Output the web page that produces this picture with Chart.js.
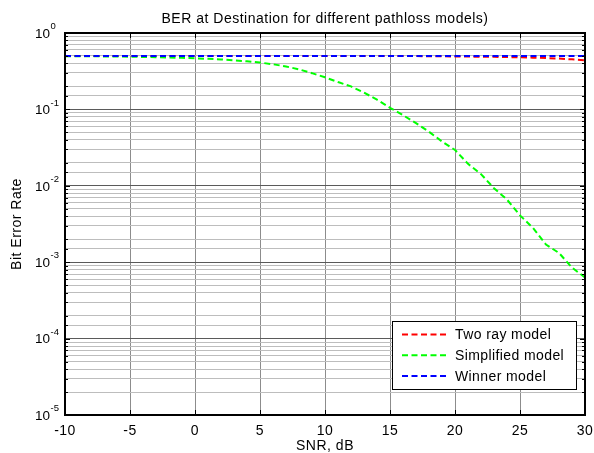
<!DOCTYPE html>
<html>
<head>
<meta charset="utf-8">
<script src="https://cdn.jsdelivr.net/npm/chart.js@4.4.1/dist/chart.umd.min.js"></script>
<style>
  html, body { margin: 0; padding: 0; background: #fff; }
</style>
</head>
<body>
<canvas id="berChart" width="594" height="453"></canvas>
<script>
// SNR sweep in dB
const snr = [-10, -9, -8, -7, -6, -5, -4, -3, -2, -1, 0, 1, 2, 3, 4, 5, 6, 7, 8, 9,
             10, 11, 12, 13, 14, 15, 16, 17, 18, 19, 20, 21, 22, 23, 24, 25, 26, 27, 28, 29, 30];

// BER per pathloss model
const twoRay = [0.5, 0.5, 0.5, 0.5, 0.5, 0.5, 0.5, 0.5, 0.5, 0.5,
                0.5, 0.5, 0.5, 0.5, 0.5, 0.5, 0.5, 0.5, 0.5, 0.5,
                0.5, 0.5, 0.5, 0.5, 0.5, 0.5, 0.5, 0.499, 0.497, 0.495,
                0.493, 0.491, 0.489, 0.487, 0.484, 0.481, 0.476, 0.47, 0.462, 0.452, 0.44];
const simplified = [0.498, 0.497, 0.496, 0.494, 0.492, 0.489, 0.486, 0.482, 0.478, 0.473,
                    0.467, 0.459, 0.45, 0.439, 0.426, 0.41, 0.39, 0.365, 0.334, 0.298,
                    0.263, 0.228, 0.2, 0.166, 0.134, 0.105, 0.084, 0.066, 0.051, 0.038,
                    0.0295, 0.0194, 0.0142, 0.0093, 0.0066, 0.0041, 0.0028, 0.0017, 0.00132, 0.00085, 0.00063];
const winner = [0.5, 0.5, 0.5, 0.5, 0.5, 0.5, 0.5, 0.5, 0.5, 0.5,
                0.5, 0.5, 0.5, 0.5, 0.5, 0.5, 0.5, 0.5, 0.5, 0.5,
                0.5, 0.5, 0.5, 0.5, 0.5, 0.5, 0.5, 0.5, 0.5, 0.5,
                0.5, 0.5, 0.5, 0.5, 0.5, 0.5, 0.5, 0.5, 0.5, 0.5, 0.5];

const seriesNames = ['Two ray model', 'Simplified model', 'Winner model'];
const seriesColors = ['#ff0000', '#00ff00', '#0000ff'];

// axis ticks
const xTicks = [-10, -5, 0, 5, 10, 15, 20, 25, 30];
const yDecades = [1, 1e-1, 1e-2, 1e-3, 1e-4, 1e-5];

const FONT = '"Liberation Sans", Arial, Helvetica, sans-serif';
const DASH = [6, 3.5];

function isDecade(v) {
    const l = Math.log10(v);
    return Math.abs(l - Math.round(l)) < 1e-6;
}

function pts(ys) {
    return snr.map((s, i) => ({x: s, y: ys[i]}));
}

// box, inward ticks, 10^n labels and the legend, drawn the old matlab way
const matlabFrame = {
    id: 'matlabFrame',
    beforeDraw(chart) {
        // matlab text runs a bit wider than plain arial
        chart.ctx.letterSpacing = '0.5px';
    },
    afterDraw(chart) {
        const ctx = chart.ctx;
        const a = chart.chartArea;
        const x = chart.scales.x, y = chart.scales.y;
        ctx.save();

        function seg(x1, y1, x2, y2) {
            ctx.beginPath(); ctx.moveTo(x1, y1); ctx.lineTo(x2, y2); ctx.stroke();
        }

        ctx.strokeStyle = '#000';
        ctx.lineWidth = 1;
        y.ticks.forEach(t => {
            const py = Math.round(y.getPixelForValue(t.value)) + 0.5;
            const len = isDecade(t.value) ? 5 : 3;
            seg(a.left, py, a.left + len, py);
            seg(a.right - len, py, a.right, py);
        });
        xTicks.forEach(v => {
            const px = Math.round(x.getPixelForValue(v)) + 0.5;
            seg(px, a.top, px, a.top + 5);
            seg(px, a.bottom - 5, px, a.bottom);
        });

        ctx.lineWidth = 2;
        ctx.strokeRect(a.left, a.top, a.right - a.left, a.bottom - a.top);

        // y tick labels with superscript exponent
        ctx.letterSpacing = '0px';
        ctx.fillStyle = '#000';
        ctx.textBaseline = 'middle';
        yDecades.forEach(v => {
            const py = y.getPixelForValue(v);
            ctx.font = '13.5px ' + FONT;
            ctx.textAlign = 'right';
            ctx.fillText('10', a.left - 15, py + 1);
            ctx.font = '9.5px ' + FONT;
            ctx.textAlign = 'left';
            ctx.fillText(String(Math.round(Math.log10(v))), a.left - 14.5, py - 6.5);
        });

        // legend
        const bx = a.right - 193, by = a.bottom - 94, bw = 184, bh = 68;
        ctx.fillStyle = '#fff';
        ctx.fillRect(bx, by, bw, bh);
        ctx.lineWidth = 1;
        ctx.strokeStyle = '#000';
        ctx.strokeRect(bx + 0.5, by + 0.5, bw, bh);
        ctx.font = '14px ' + FONT;
        ctx.letterSpacing = '0.4px';
        ctx.textAlign = 'left';
        ctx.textBaseline = 'middle';
        seriesNames.forEach((name, i) => {
            const ry = by + 13.5 + i * 20.7;
            ctx.strokeStyle = seriesColors[i];
            ctx.lineWidth = 2;
            ctx.setLineDash(DASH);
            seg(bx + 10, ry, bx + 56, ry);
            ctx.setLineDash([]);
            ctx.fillStyle = '#000';
            ctx.fillText(name, bx + 63, ry + 1);
        });

        ctx.restore();
    }
};

const ds = [twoRay, simplified, winner].map((ys, i) => ({
    label: seriesNames[i],
    data: pts(ys),
    borderColor: seriesColors[i],
    borderWidth: 2,
    borderDash: DASH,
    pointRadius: 0,
    fill: false,
    tension: 0,
    order: 2 - i
}));

new Chart(document.getElementById('berChart'), {
    type: 'line',
    data: {datasets: ds},
    options: {
        responsive: false,
        animation: false,
        layout: {padding: {left: 0, right: 9, top: 0, bottom: 0}},
        plugins: {
            legend: {display: false},
            tooltip: {enabled: false},
            title: {
                display: true,
                text: 'BER at Destination for different pathloss models)',
                color: '#000',
                fullSize: false,
                font: {family: FONT, size: 14, weight: 'normal'},
                padding: {top: 10.6, bottom: 5.6}
            }
        },
        scales: {
            x: {
                type: 'linear',
                min: -10,
                max: 30,
                afterBuildTicks: s => { s.ticks = xTicks.map(v => ({value: v})); },
                afterFit: s => { s.height = 38; s.paddingLeft = 0; s.paddingRight = 0; },
                grid: {color: '#8c8c8c', drawTicks: false},
                border: {display: false},
                ticks: {color: '#000', font: {family: FONT, size: 14}, padding: 8, maxRotation: 0},
                title: {display: true, text: 'SNR, dB', color: '#000',
                        font: {family: FONT, size: 14, lineHeight: 1.0}, padding: {top: 0, bottom: 0}}
            },
            y: {
                type: 'logarithmic',
                min: 1e-5,
                max: 1,
                afterFit: s => { s.width = 65; },
                grid: {
                    color: c => isDecade(c.tick.value) ? '#5a5a5a' : '#bdbdbd',
                    drawTicks: false
                },
                border: {display: false},
                ticks: {display: false},
                title: {display: true, text: 'Bit Error Rate', color: '#000',
                        font: {family: FONT, size: 14}, padding: {top: 9, bottom: 0}}
            }
        }
    },
    plugins: [matlabFrame]
});
</script>
</body>
</html>
